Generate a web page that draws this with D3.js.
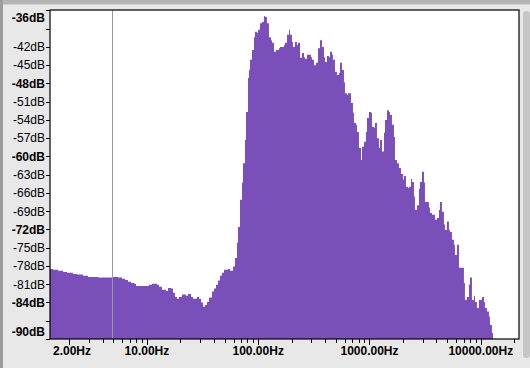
<!DOCTYPE html>
<html>
<head>
<meta charset="utf-8">
<script src="https://cdn.jsdelivr.net/npm/d3@7"></script>
<style>
  body { margin: 0; background: #e8e8e8; }
  svg { display: block; }
  text { font-family: "Liberation Sans", Helvetica, Arial, sans-serif; font-size: 12px; fill: #000; }
</style>
</head>
<body>
<div id="chart"></div>
<script>
// spectrum readings: frequency (Hz) and level (dB)
var freqs = [1.346, 1.432, 1.588, 1.761, 1.913, 2.165, 2.352, 2.663, 2.953, 3.631,
  4.854, 5.494, 5.969, 6.351, 6.757, 7.191, 7.651, 7.974, 10.43, 11.10,
  12.31, 12.83, 13.65, 14.83, 15.46, 16.45, 17.14, 17.86, 18.62, 19.40,
  20.66, 22.44, 23.38, 24.88, 25.93, 28.16, 29.35, 30.60, 31.89, 33.23,
  34.64, 36.10, 38.43, 40.05, 41.74, 43.50, 45.34, 47.25, 49.25, 53.49,
  55.77, 59.34, 61.84, 64.45, 65.80, 68.58, 71.47, 72.97, 76.05, 77.63,
  80.91, 82.60, 84.34, 87.90, 91.61, 93.53, 97.47, 99.50, 103.7, 108.1,
  112.6, 115.0, 119.8, 124.9, 130.2, 132.9, 138.5, 144.3, 153.6, 156.9,
  170.4, 174.0, 181.3, 189.0, 192.9, 201.0, 205.2, 213.9, 222.9, 227.6,
  237.3, 247.3, 257.8, 263.1, 274.2, 285.8, 297.9, 304.1, 317.0, 330.3,
  344.3, 358.9, 374.0, 389.8, 398.0, 414.8, 432.3, 441.3, 459.9, 469.5,
  489.4, 510.0, 531.5, 542.8, 565.7, 589.6, 601.9, 627.3, 640.4, 667.6,
  681.6, 710.3, 725.2, 755.7, 771.5, 804.1, 838.3, 855.8, 891.9, 929.5,
  948.9, 988.9, 1030.9, 1052.4, 1096.8, 1119.8, 1167.0, 1216.2, 1241.8, 1294.2,
  1348.8, 1377.0, 1435.1, 1495.6, 1527.2, 1591.6, 1658.9, 1693.5, 1765.0, 1839.4,
  1917.5, 1998.4, 2040.1, 2126.1, 2215.9, 2262.1, 2358.3, 2407.5, 2509.1, 2561.6,
  2669.7, 2782.2, 2841, 2960.9, 3085.9, 3150.4, 3283.3, 3421.7, 3494, 3641.5,
  3795.2, 3874.5, 4038.0, 4208.2, 4296, 4477.3, 4666.3, 4763.8, 4964.9, 5174.1,
  5284, 5507.0, 5739.5, 5859.4, 6106.7, 6364.1, 6497, 6771.2, 7057.0, 7204.5,
  7508.6, 7825.0, 7991, 8328.2, 8679.8, 8861.2, 9235.2, 9624.4, 9827, 10241.7,
  10674, 10897, 11357, 11836, 12088, 12598, 12862];
var levels = [-78.5, -78.6, -78.8, -79.0, -79.1, -79.3, -79.4, -79.6, -79.8, -79.9,
  -79.8, -79.9, -80.1, -80.3, -80.6, -80.8, -80.9, -81.3, -81.1, -80.9,
  -81.1, -81.4, -81.9, -82.1, -81.6, -81.7, -82.4, -83.1, -83.4, -83.1,
  -82.7, -82.9, -82.6, -83.1, -83.4, -83.1, -83.4, -84.0, -84.7, -84.4,
  -83.9, -83.2, -82.2, -81.7, -81.1, -80.4, -79.6, -79.1, -78.6, -78.5,
  -78.8, -78.1, -76.7, -74.2, -71.6, -67.1, -64.3, -61.1, -57.3, -52.7,
  -47.1, -45.8, -44.1, -42.5, -40.4, -39.5, -39.7, -39.2, -38.1, -37.9,
  -36.9, -37.1, -38.1, -40.4, -40.9, -41.3, -42.8, -42.5, -42.2, -42.0,
  -41.7, -41.3, -40.0, -39.2, -40.0, -41.2, -42.0, -41.2, -41.7, -41.3,
  -43.8, -43.0, -43.7, -44.0, -43.3, -43.3, -43.7, -44.1, -45.0, -44.6,
  -42.2, -40.9, -42.0, -43.7, -44.5, -43.5, -43.7, -42.8, -43.3, -44.1,
  -46.1, -46.6, -46.3, -44.6, -45.8, -47.8, -49.6, -49.9, -49.6, -49.6,
  -51.2, -52.8, -54.5, -54.8, -56.0, -58.6, -60.6, -58.4, -57.6, -56.0,
  -53.7, -52.7, -52.8, -55.1, -55.3, -54.5, -57.0, -58.6, -57.3, -59.2,
  -56.1, -54.0, -52.4, -52.7, -53.2, -54.8, -56.8, -60.6, -61.1, -61.9,
  -62.9, -63.8, -63.2, -65.0, -65.2, -65.0, -63.7, -64.2, -66.6, -68.8,
  -68.0, -65.3, -64.2, -62.5, -64.3, -67.5, -67.5, -68.4, -69.3, -69.6,
  -69.6, -70.4, -70.1, -68.8, -67.5, -69.1, -71.2, -72.1, -70.7, -72.1,
  -72.4, -73.7, -74.5, -76.2, -74.5, -78.3, -78.3, -78.3, -80.8, -83.6,
  -83.1, -81.1, -79.9, -83.6, -82.9, -83.9, -84.9, -83.6, -83.6, -83.1,
  -83.9, -84.9, -85.5, -86.3, -87.7, -89.0, -100];

var dbTicks = [-36, -39, -42, -45, -48, -51, -54, -57, -60, -63, -66, -69, -72, -75, -78, -81, -84, -87, -90];
var dbBold = [-36, -48, -60, -72, -84, -90];
var dbUnlabelled = [-39, -87];
var hzLabels = [2, 10, 100, 1000, 10000];
var cursorHz = 4.85;
var fMin = 1.346, fMax = 22050;

var width = 530, height = 368;
var plotLeft = 50, plotRight = 519, plotTop = 10.4, plotBottom = 339;

var svg = d3.select("#chart").append("svg")
  .attr("width", width)
  .attr("height", height);

// window bits round the plot
svg.append("rect").attr("x", 0).attr("y", 0).attr("width", width).attr("height", 4).style("fill", "#b4b4b4");
svg.append("rect").attr("x", 0).attr("y", 4).attr("width", width).attr("height", 1).style("fill", "#d0d0d0");
svg.append("rect").attr("x", 0).attr("y", 0).attr("width", 3).attr("height", height).style("fill", "#9c9c9c");
svg.append("rect").attr("x", 523).attr("y", 11).attr("width", 7).attr("height", 347).attr("rx", 3)
  .style("fill", "#c6c6c6");

var x = d3.scaleLog().domain([fMin, fMax]).range([plotLeft, plotRight]);
var y = d3.scaleLinear().domain([-90, -36]).range([plotBottom, plotTop]);

svg.append("rect")
  .attr("x", plotLeft).attr("y", plotTop)
  .attr("width", plotRight - plotLeft).attr("height", plotBottom - plotTop)
  .style("fill", "#fff");

svg.append("clipPath").attr("id", "plotclip")
  .append("rect")
  .attr("x", plotLeft).attr("y", plotTop)
  .attr("width", plotRight - plotLeft).attr("height", plotBottom - plotTop);

var data = freqs.map(function(f, i) { return { f: f, db: levels[i] }; });

var area = d3.area()
  .x(function(d) { return x(d.f); })
  .y0(plotBottom)
  .y1(function(d) { return y(Math.max(d.db, -90)); })
  .curve(d3.curveStepAfter);

svg.append("path")
  .datum(data)
  .attr("clip-path", "url(#plotclip)")
  .attr("d", area)
  .style("fill", "#7b4fba");

// cursor line
svg.append("line")
  .attr("x1", Math.round(x(cursorHz)) + 0.5).attr("x2", Math.round(x(cursorHz)) + 0.5)
  .attr("y1", plotTop).attr("y2", plotBottom)
  .style("stroke", "#9a9a9a")
  .style("stroke-width", 1);

// plot frame
svg.append("rect")
  .attr("x", plotLeft).attr("y", plotTop - 0.4)
  .attr("width", plotRight - plotLeft).attr("height", plotBottom - plotTop + 0.4)
  .style("fill", "none")
  .style("stroke", "#000")
  .style("stroke-width", 1.2);

// y axis (dB)
dbTicks.forEach(function(v) {
  var yy = Math.round(y(v)) + 0.5;
  svg.append("line")
    .attr("x1", plotLeft - 4).attr("x2", plotLeft)
    .attr("y1", yy).attr("y2", yy)
    .style("stroke", "#000");
  if (dbUnlabelled.indexOf(v) < 0) {
    var ty = Math.min(Math.max(y(v), 18), 332);
    svg.append("text")
      .attr("x", 45)
      .attr("y", ty + 4.3)
      .attr("text-anchor", "end")
      .style("font-weight", dbBold.indexOf(v) >= 0 ? "bold" : "normal")
      .text(v + "dB");
  }
});

// x axis (Hz), log ticks
var minorTicks = [];
[1, 10, 100, 1000, 10000].forEach(function(dec) {
  for (var k = 1; k <= 9; k++) {
    var f = dec * k;
    if (f >= fMin && f <= fMax) minorTicks.push(f);
  }
});
minorTicks.push(20000);
minorTicks.forEach(function(f) {
  var xx = Math.round(x(f)) + 0.5;
  var major = hzLabels.indexOf(f) >= 0;
  svg.append("line")
    .attr("x1", xx).attr("x2", xx)
    .attr("y1", plotBottom).attr("y2", plotBottom + (major ? 6 : 4))
    .style("stroke", "#000");
});

hzLabels.forEach(function(f) {
  svg.append("text")
    .attr("x", Math.max(x(f), 72))
    .attr("y", 355)
    .attr("text-anchor", "middle")
    .style("font-weight", "bold")
    .text(f.toFixed(2) + "Hz");
});
</script>
</body>
</html>
